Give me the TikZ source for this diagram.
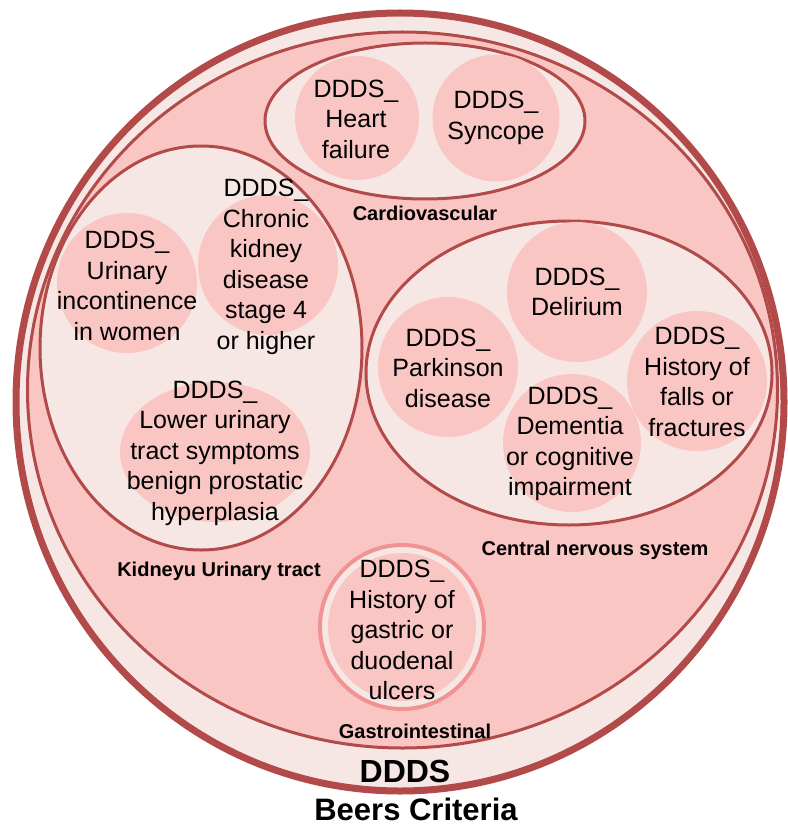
\documentclass[tikz,border=0pt]{standalone}
\usepackage{fontspec}
\setmainfont{Liberation Sans}
\usetikzlibrary{shapes.geometric}
\definecolor{rim}{HTML}{B34A4A}
\definecolor{pale}{HTML}{F6E7E5}
\definecolor{rose}{HTML}{F9C6C4}
\definecolor{salmon}{HTML}{F09392}
\begin{document}
\begin{tikzpicture}[x=1pt,y=-1pt,
  zone/.style={ellipse, draw=rim, line width=3pt, fill=pale, inner sep=0pt},
  item/.style={circle, fill=rose, inner sep=0pt, minimum size=140pt},
  itemtext/.style={align=center, inner sep=0pt, font=\fontsize{25}{30.5}\selectfont},
  grouplabel/.style={inner sep=0pt, font=\fontsize{20}{24}\selectfont\bfseries},
  biglabel/.style={inner sep=0pt, font=\fontsize{32}{36}\selectfont\bfseries}]
\useasboundingbox (0,0) rectangle (787,826);

% outer set and the DDDS set
\node[ellipse, draw=rim, line width=7pt, fill=pale, inner sep=0pt,
      minimum width=768pt, minimum height=778pt] (beers) at (400,402) {};
\node[ellipse, draw=rim, line width=3pt, fill=rose, inner sep=0pt,
      minimum width=750pt, minimum height=716pt] (ddds) at (402.5,390) {};

% Cardiovascular
\node[zone, minimum width=320pt, minimum height=156pt] (cardio) at (425,121) {};
\node[item, minimum size=124pt] (hf) at (357,118) {};
\node[item, minimum size=127pt] (sync) at (496,118) {};
\node[itemtext] (hft) at (356,119) {DDDS\_\\Heart\\failure};
\node[itemtext] (synct) at (sync) {DDDS\_\\Syncope};
\node[grouplabel] (cardiolab) at (425,213) {Cardiovascular};

% Kidney / urinary tract
\node[zone, minimum width=322pt, minimum height=404pt] (kidney) at (201,348) {};
\node[item] (uiw) at (127,283) {};
\node[item] (ckd) at (268,265) {};
\node[ellipse, fill=rose, inner sep=0pt, minimum width=190pt, minimum height=140pt] (luts) at (215,452) {};
\node[itemtext] (uiwt) at (127,286) {DDDS\_\\Urinary\\incontinence\\in women};
\node[itemtext] (ckdt) at (266,267) {DDDS\_\\Chronic\\kidney\\disease\\stage 4\\or higher};
\node[itemtext] (lutst) at (215,453) {DDDS\_\\Lower urinary\\tract symptoms\\benign prostatic\\hyperplasia};
\node[grouplabel] (kidneylab) at (219,571) {Kidneyu Urinary tract};

% Central nervous system
\node[zone, minimum width=406pt, minimum height=304pt] (cns) at (569,373) {};
\node[item] (delir) at (577,292) {};
\node[item] (park) at (448,367) {};
\node[item, minimum size=138pt] (dem) at (572,443) {};
\node[item] (falls) at (697,381) {};
\node[itemtext] (delirt) at (577,292) {DDDS\_\\Delirium};
\node[itemtext] (parkt) at (448,368) {DDDS\_\\Parkinson\\disease};
\node[itemtext] (demt) at (570,444) {DDDS\_\\Dementia\\or cognitive\\impairment};
\node[itemtext] (fallst) at (697,382) {DDDS\_\\History of\\falls or\\fractures};
\node[grouplabel] (cnslab) at (595,550) {Central nervous system};

% Gastrointestinal
\node[circle, draw=salmon, line width=4pt, fill=pale, inner sep=0pt, minimum size=164pt] (gi) at (402,627) {};
\node[item, minimum size=148pt] (gii) at (gi) {};
\node[itemtext] (git) at (402,630) {DDDS\_\\History of\\gastric or\\duodenal\\ulcers};
\node[grouplabel] (gilab) at (415,731) {Gastrointestinal};

% set titles
\node[biglabel] (dddslab) at (405,771) {DDDS};
\node[biglabel, font=\fontsize{31}{36}\selectfont\bfseries] (beerslab) at (416,809) {Beers Criteria};
\end{tikzpicture}
\end{document}
